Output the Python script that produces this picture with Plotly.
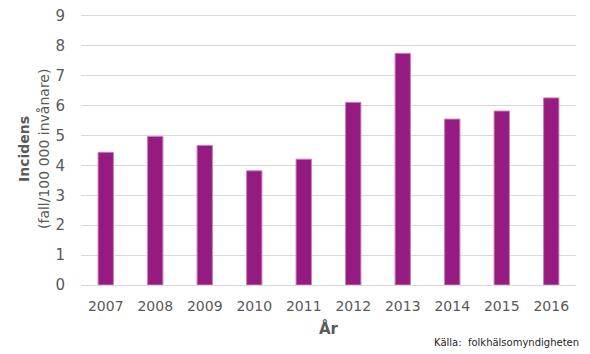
import plotly.graph_objects as go

years = ["2007", "2008", "2009", "2010", "2011", "2012", "2013", "2014", "2015", "2016"]
incidens = [4.44, 4.97, 4.67, 3.82, 4.21, 6.11, 7.75, 5.55, 5.82, 6.26]
y_ticks = [0, 1, 2, 3, 4, 5, 6, 7, 8, 9]

grey = "#595959"
font = "DejaVu Sans"

fig = go.Figure(go.Bar(
    x=years, y=incidens,
    marker=dict(color="#951B81", line=dict(color="#C77FBB", width=1)),
    width=0.31,
))

# page body has an 8px default margin; size the figure to fill the rest of the window
fig.update_layout(
    width=582, height=346,
    margin=dict(l=73, r=14, t=5, b=69, autoexpand=False),
    paper_bgcolor="white", plot_bgcolor="white",
    showlegend=False,
    font=dict(family=font, color=grey, size=14),
)
fig.update_xaxes(
    type="category", showgrid=False, showline=False, zeroline=False, automargin=False,
    ticks="", tickfont=dict(size=14, color=grey), ticklabelstandoff=11,
    title=dict(text="<b>År</b>", font=dict(size=15, color=grey), standoff=10),
)
fig.update_yaxes(
    range=[0, 9.1], tickvals=y_ticks, showgrid=True, gridcolor="#D9D9D9", gridwidth=1,
    zeroline=True, zerolinecolor="#D9D9D9", zerolinewidth=1, showline=False, automargin=False,
    ticks="", tickfont=dict(size=15, color=grey), ticklabelstandoff=15,
    ticklabeloverflow="allow",
)
fig.add_annotation(
    x=0, y=0.5, xref="paper", yref="paper", xanchor="center", yanchor="middle",
    xshift=-57,
    text="<b>Incidens</b>", textangle=-90,
    font=dict(size=14, color=grey, family=font), showarrow=False,
)
fig.add_annotation(
    x=0, y=0.5, xref="paper", yref="paper", xanchor="center", yanchor="middle",
    xshift=-37,
    text="(fall/100 000 invånare)", textangle=-90,
    font=dict(size=14, color=grey, family=font), showarrow=False,
)
fig.add_annotation(
    x=1, y=0, xref="paper", yref="paper", xanchor="right", yanchor="top",
    yshift=-50, xshift=5,
    text="Källa:  folkhälsomyndigheten", showarrow=False,
    font=dict(size=10, color="#262626", family=font),
)

fig.write_html("out.html")
